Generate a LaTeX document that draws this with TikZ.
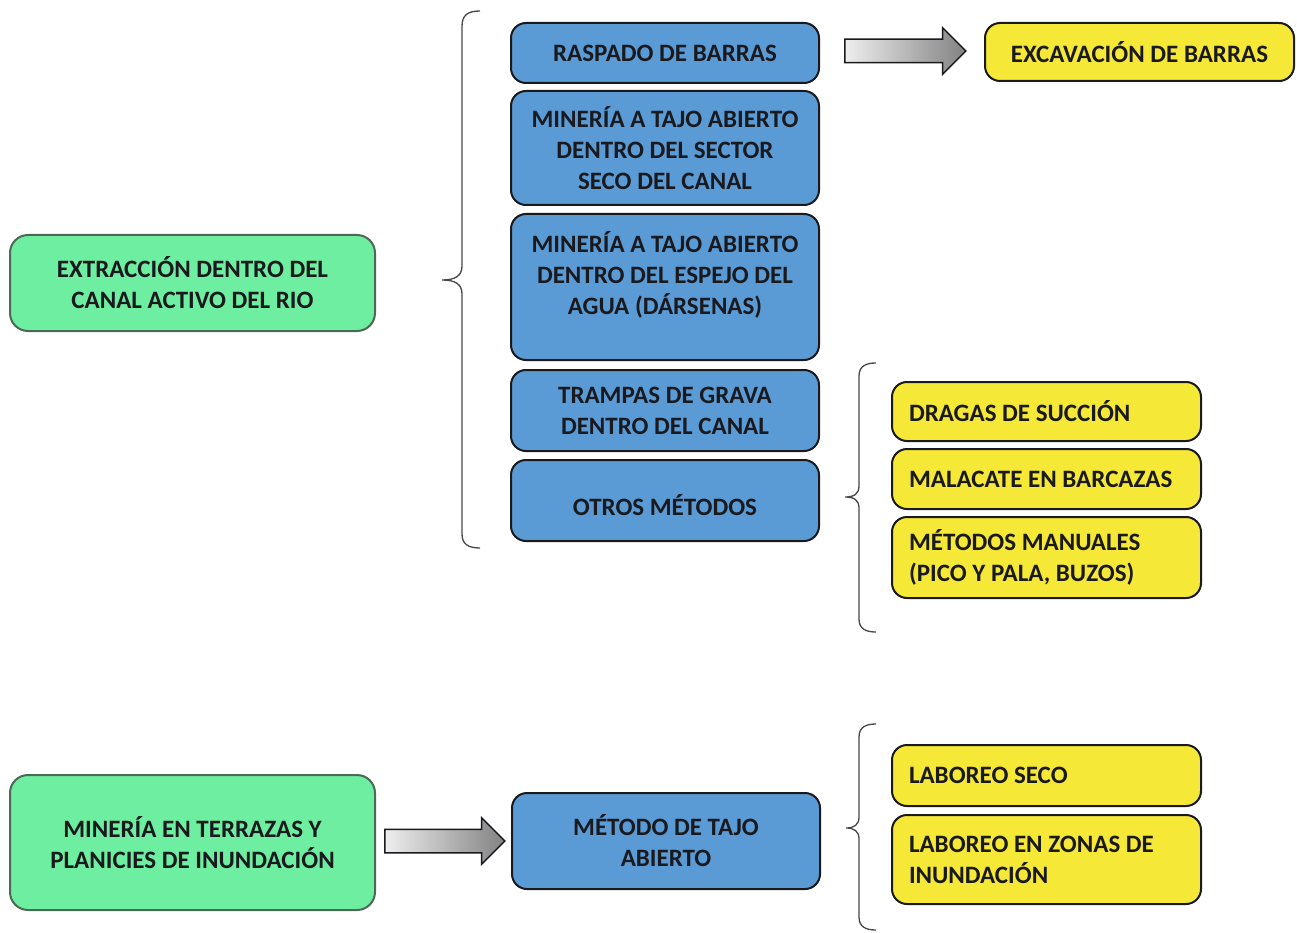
\documentclass[tikz,border=0pt]{standalone}
\usepackage{fontspec}
\setmainfont{Carlito}
\usetikzlibrary{shapes.arrows}

\definecolor{verdecaja}{RGB}{110,238,160}
\definecolor{bordeverde}{RGB}{75,105,85}
\definecolor{azulcaja}{RGB}{91,155,213}
\definecolor{amarillocaja}{RGB}{245,232,55}
\definecolor{bordeoscuro}{RGB}{25,25,30}
\definecolor{grisllave}{RGB}{70,70,70}
\definecolor{grisclaro}{RGB}{238,238,238}
\definecolor{grisoscuro}{RGB}{130,130,130}

\tikzset{
  caja/.style={draw=bordeoscuro, line width=2pt, rounded corners=15pt,
    font=\fontsize{25}{31}\selectfont\bfseries, text=bordeoscuro, inner sep=0pt},
  verde/.style={caja, fill=verdecaja, draw=bordeverde, rounded corners=18pt,
    minimum width=365pt, align=center},
  azul/.style={caja, fill=azulcaja, minimum width=308pt, align=center},
  amarilla/.style={caja, fill=amarillocaja, text width=275pt, inner xsep=17pt, align=flush left},
  amarillacentro/.style={caja, fill=amarillocaja, minimum width=309pt, align=center},
  flecha/.style={single arrow, draw=bordeoscuro, line width=1.5pt,
    left color=grisclaro, right color=grisoscuro, inner sep=11pt,
    single arrow head extend=11.5pt},
  llave/.style={draw=grisllave, line width=1.3pt}
}

\begin{document}
\begin{tikzpicture}[x=1pt,y=-1pt]
\useasboundingbox (0,0) rectangle (1297,933);

% =========================
% extraccion dentro del canal
% =========================
\node[verde, minimum height=96pt] (canal) at (192.5,283) {EXTRACCIÓN DENTRO DEL\\CANAL ACTIVO DEL RIO};

% llave grande
\draw[llave] (480,11) .. controls (468,11) and (462,15) .. (462,26) -- (462,266)
  .. controls (462,276) and (455,280) .. (442,280)
  .. controls (455,280) and (462,284) .. (462,294) -- (462,534)
  .. controls (462,544) and (468,548) .. (480,548);

% metodos
\node[azul, minimum height=60pt] (raspado) at (665,53) {RASPADO DE BARRAS};
\node[azul, minimum height=114pt] (seco) at (665,148) {MINERÍA A TAJO ABIERTO\\DENTRO DEL SECTOR\\SECO DEL CANAL};
\node[azul, minimum height=146pt] (darsenas) at (665,287) {MINERÍA A TAJO ABIERTO\\DENTRO DEL ESPEJO DEL\\AGUA (DÁRSENAS)\\[-4pt]\mbox{}};
\node[azul, minimum height=81pt] (trampas) at (665,410.5) {TRAMPAS DE GRAVA\\DENTRO DEL CANAL};
\node[azul, minimum height=81pt] (otros) at (665,500.5) {\rule{0pt}{30pt}OTROS MÉTODOS};

% raspado -> excavacion
\node[flecha, minimum height=121pt] (flechaA) at (899.5,51) {};
\node[amarillacentro, minimum height=58pt] (excavacion) at (1139.5,52) {EXCAVACIÓN DE BARRAS};

% llave de otros metodos
\draw[llave] (876,363) .. controls (866,363) and (859,366) .. (859,376) -- (859,486)
  .. controls (859,494) and (854,497) .. (845,497)
  .. controls (854,497) and (859,500) .. (859,508) -- (859,619)
  .. controls (859,629) and (866,632) .. (876,632);

\node[amarilla, minimum height=59pt] (dragas) at (1046.5,411.5) {DRAGAS DE SUCCIÓN};
\node[amarilla, minimum height=60pt] (malacate) at (1046.5,479) {MALACATE EN BARCAZAS};
\node[amarilla, minimum height=81pt] (manuales) at (1046.5,557.5) {MÉTODOS MANUALES\\(PICO Y PALA, BUZOS)};

% =========================
% terrazas y planicies
% =========================
\node[verde, minimum height=135pt] (terrazas) at (192.5,842.5) {MINERÍA EN TERRAZAS Y\\PLANICIES DE INUNDACIÓN};
\node[flecha, minimum height=120pt] (flechaB) at (439,841) {};
\node[azul, minimum height=96pt] (tajo) at (666,841) {MÉTODO DE TAJO\\ABIERTO};

% llave de tajo abierto
\draw[llave] (876,724) .. controls (866,724) and (859,727) .. (859,737) -- (859,817)
  .. controls (859,825) and (854,828) .. (846,828)
  .. controls (854,828) and (859,831) .. (859,839) -- (859,917)
  .. controls (859,927) and (866,930) .. (876,930);

\node[amarilla, minimum height=61pt] (laboreo) at (1046.5,775.5) {LABOREO SECO};
\node[amarilla, minimum height=89pt] (zonas) at (1046.5,859.5) {LABOREO EN ZONAS DE\\INUNDACIÓN};

\end{tikzpicture}
\end{document}
